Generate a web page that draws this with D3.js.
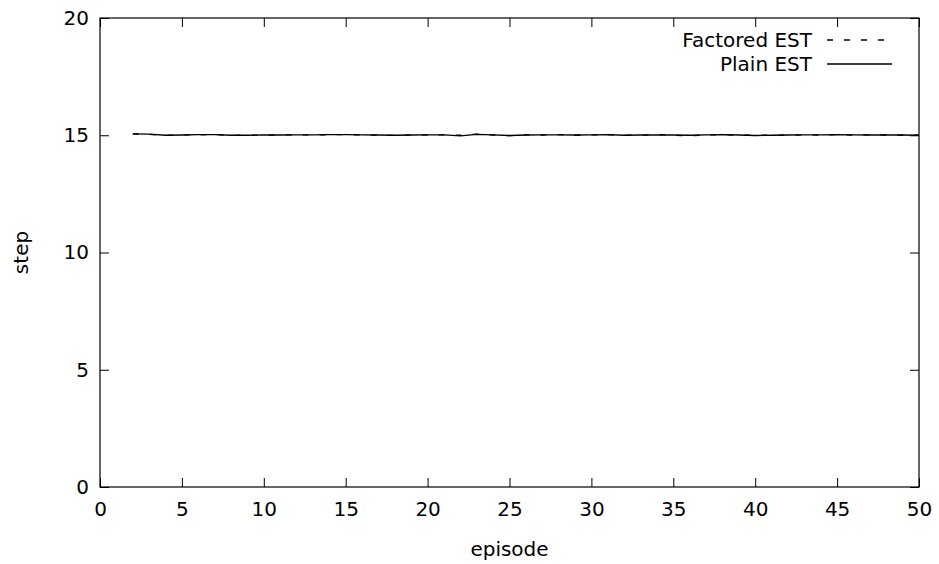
<!DOCTYPE html>
<html>
<head>
<meta charset="utf-8">
<script src="https://cdn.jsdelivr.net/npm/d3@7"></script>
<style>
  body { margin: 0; background: #fff; }
  text { font-family: "DejaVu Sans", sans-serif; fill: #000; }
</style>
</head>
<body>
<svg id="chart" width="939" height="564"></svg>
<script>
// episodes 2..50
const episodes = d3.range(2, 51);

const plainEST = [15.06, 15.05, 15.00, 15.01, 15.03, 15.03, 15.00, 15.00, 15.01, 15.01,
                  15.02, 15.02, 15.03, 15.03, 15.02, 15.01, 15.00, 15.01, 15.02, 15.02,
                  14.97, 15.04, 15.02, 14.99, 15.01, 15.02, 15.02, 15.01, 15.02, 15.03,
                  15.00, 15.01, 15.02, 15.01, 15.00, 15.02, 15.03, 15.01, 14.99, 15.00,
                  15.01, 15.02, 15.02, 15.03, 15.02, 15.01, 15.02, 15.01, 15.00];

const factoredEST = [15.06, 15.04, 14.99, 15.02, 15.02, 15.03, 14.99, 15.01, 15.00, 15.02,
                     15.01, 15.02, 15.02, 15.03, 15.01, 15.00, 14.99, 15.02, 15.01, 15.02,
                     15.00, 15.05, 15.01, 14.98, 15.02, 15.01, 15.03, 15.00, 15.02, 15.02,
                     15.01, 15.00, 15.03, 15.00, 14.97, 15.02, 15.02, 15.00, 15.00, 15.01,
                     15.00, 15.02, 15.01, 15.03, 15.01, 15.02, 15.01, 15.00, 15.00];

const xTicks = [0, 5, 10, 15, 20, 25, 30, 35, 40, 45, 50];
const yTicks = [0, 5, 10, 15, 20];

const margin = { left: 100, right: 20, top: 18, bottom: 77 };
const W = 939, H = 564;
const svg = d3.select("#chart");

const x = d3.scaleLinear().domain([0, 50]).range([margin.left, W - margin.right]);
const y = d3.scaleLinear().domain([0, 20]).range([H - margin.bottom, margin.top]);

const FONT = 20;
const TICK = 9;
const DASH = "6,11";

// ticks (inward, mirrored)
const xAxisB = d3.axisBottom(x).tickValues(xTicks).tickSizeInner(-TICK).tickSizeOuter(0).tickPadding(15);
const xAxisT = d3.axisTop(x).tickValues(xTicks).tickSizeInner(-TICK).tickSizeOuter(0).tickFormat("");
const yAxisL = d3.axisLeft(y).tickValues(yTicks).tickSizeInner(-TICK).tickSizeOuter(0).tickPadding(11);
const yAxisR = d3.axisRight(y).tickValues(yTicks).tickSizeInner(-TICK).tickSizeOuter(0).tickFormat("");

function style(g) {
  g.select(".domain").remove();
  g.selectAll("line").attr("stroke", "#000").attr("stroke-width", 1);
  g.selectAll("text").attr("font-size", FONT).attr("font-family", "DejaVu Sans").attr("fill", "#000");
}

svg.append("g").attr("transform", `translate(0,${y(0)})`).call(xAxisB).call(style);
svg.append("g").attr("transform", `translate(0,${y(20)})`).call(xAxisT).call(style);
svg.append("g").attr("transform", `translate(${x(0)},0)`).call(yAxisL).call(style);
svg.append("g").attr("transform", `translate(${x(50)},0)`).call(yAxisR).call(style);

// frame
svg.append("rect")
  .attr("x", x(0)).attr("y", y(20))
  .attr("width", x(50) - x(0)).attr("height", y(0) - y(20))
  .attr("fill", "none").attr("stroke", "#000").attr("stroke-width", 1.2);

// series
const line = d3.line().x((d, i) => x(episodes[i])).y(d => y(d));

svg.append("path").datum(factoredEST)
  .attr("d", line).attr("fill", "none").attr("stroke", "#000")
  .attr("stroke-width", 1.3).attr("stroke-dasharray", DASH);

svg.append("path").datum(plainEST)
  .attr("d", line).attr("fill", "none").attr("stroke", "#000")
  .attr("stroke-width", 1.3);

// legend
const legend = [
  { label: "Factored EST", dash: DASH, y: 40 },
  { label: "Plain EST", dash: null, y: 64 }
];
legend.forEach(l => {
  svg.append("text").attr("x", 812).attr("y", l.y).attr("dy", "0.35em")
    .attr("text-anchor", "end").attr("font-size", FONT).text(l.label);
  svg.append("line").attr("x1", 827).attr("x2", 892).attr("y1", l.y).attr("y2", l.y)
    .attr("stroke", "#000").attr("stroke-width", 1.3)
    .attr("stroke-dasharray", l.dash);
});

// axis labels
svg.append("text").attr("x", (x(0) + x(50)) / 2).attr("y", 549).attr("dy", "0.35em")
  .attr("text-anchor", "middle").attr("font-size", FONT).text("episode");
svg.append("text").attr("transform", `translate(21,${(y(0) + y(20)) / 2}) rotate(-90)`)
  .attr("dy", "0.35em").attr("text-anchor", "middle").attr("font-size", FONT).text("step");
</script>
</body>
</html>
